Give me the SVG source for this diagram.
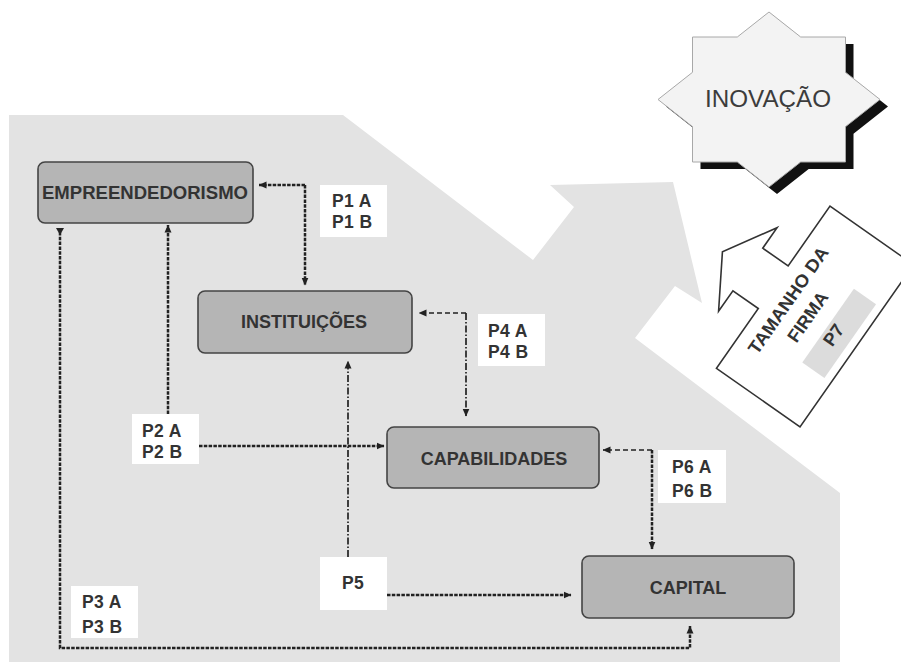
<svg xmlns="http://www.w3.org/2000/svg" width="901" height="663" viewBox="0 0 901 663">
  <style>
    .box { fill: #b5b5b5; stroke: #444; stroke-width: 1.6; }
    .boxtxt { font-family: "Liberation Sans", Arial, sans-serif; font-weight: bold; font-size: 18px; fill: #333; text-anchor: middle; }
    .lbl { fill: #fff; }
    .lbltxt { font-family: "Liberation Sans", Arial, sans-serif; font-weight: bold; font-size: 17.5px; fill: #333; letter-spacing: 0.4px; }
    .dense { fill: none; stroke: #222; stroke-width: 2.5; stroke-dasharray: 3.5 1.3; }
    .dash { fill: none; stroke: #222; stroke-width: 1.7; stroke-dasharray: 5 3; }
    .dashdot { fill: none; stroke: #222; stroke-width: 1.7; stroke-dasharray: 7 2 1.5 2; }
  </style>
  <defs>
    <marker id="arrow" viewBox="0 0 8 8" refX="7.5" refY="4" markerWidth="8" markerHeight="8" markerUnits="userSpaceOnUse" orient="auto">
      <path d="M0,0.5 L8,4 L0,7.5 Z" fill="#222"/>
    </marker>
  </defs>

  <rect width="901" height="663" fill="#fff"/>

  <!-- light gray field behind the model -->
  <polygon id="field" fill="#e3e3e3"
    points="9,115 343,115 533,260 574,207 550,185 673,182 702,303 675,286 635,338 840,493 840,662 9,662"/>

  <!-- eight-pointed star with drop shadow -->
  <g id="inovacao">
    <polygon transform="translate(8,7)" fill="#111"
      points="769,12 800.7,37 845.5,37 845.5,72.3 880,99.5 845.5,126.7 845.5,162 800.7,162 769,187 737.3,162 692.5,162 692.5,126.7 658,99.5 692.5,72.3 692.5,37 737.3,37"/>
    <polygon fill="#f3f3f3" stroke="#a8a8a8" stroke-width="1"
      points="769,12 800.7,37 845.5,37 845.5,72.3 880,99.5 845.5,126.7 845.5,162 800.7,162 769,187 737.3,162 692.5,162 692.5,126.7 658,99.5 692.5,72.3 692.5,37 737.3,37"/>
    <text x="768" y="107" font-family="'Liberation Sans', Arial, sans-serif" font-size="23" fill="#3c3c3c" text-anchor="middle" textLength="126" lengthAdjust="spacingAndGlyphs">INOVAÇÃO</text>
  </g>

  <!-- arrow callout: firm size -->
  <g id="tamanho-firma">
    <polygon transform="translate(815,316.5) rotate(35)" fill="#fff" stroke="#333" stroke-width="1.6" stroke-linejoin="miter"
      points="-51,-99 51,-99 51,99 -51,99 -51,26 -82,26 -82,51 -113,0 -82,-51 -82,-26 -51,-26"/>
    <g transform="translate(815,316.5) rotate(-55)">
      <rect x="-45" y="16" width="90" height="27" fill="#dcdcdc"/>
      <text class="boxtxt" x="-2" y="-25" textLength="126" lengthAdjust="spacingAndGlyphs">TAMANHO DA</text>
      <text class="boxtxt" x="-4.5" y="0.5">FIRMA</text>
      <text class="boxtxt" x="-4.5" y="32">P7</text>
    </g>
  </g>

  <!-- constructs -->
  <g id="empreendedorismo">
    <rect class="box" x="38" y="162" width="215" height="61" rx="7"/>
    <text class="boxtxt" x="145" y="198.5" textLength="206" lengthAdjust="spacingAndGlyphs">EMPREENDEDORISMO</text>
  </g>
  <g id="instituicoes">
    <rect class="box" x="198" y="291" width="214" height="62" rx="7"/>
    <text class="boxtxt" x="304" y="328">INSTITUIÇÕES</text>
  </g>
  <g id="capabilidades">
    <rect class="box" x="387" y="427" width="212" height="61" rx="7"/>
    <text class="boxtxt" x="494" y="465">CAPABILIDADES</text>
  </g>
  <g id="capital">
    <rect class="box" x="582" y="556" width="212" height="62" rx="7"/>
    <text class="boxtxt" x="688" y="594">CAPITAL</text>
  </g>

  <!-- relation connectors -->
  <g id="connectors">
    <!-- P1 -->
    <path class="dense" d="M305,185 L259,185" marker-end="url(#arrow)"/>
    <path class="dense" d="M305,185 L305,285" marker-end="url(#arrow)"/>
    <!-- P4 -->
    <path class="dash" d="M466,313 L419,313" marker-end="url(#arrow)"/>
    <path class="dashdot" d="M466,313 L466,416" marker-end="url(#arrow)"/>
    <!-- P2 -->
    <path class="dense" d="M168,414 L168,225" marker-end="url(#arrow)"/>
    <path class="dense" d="M199,446 L384,446" marker-end="url(#arrow)"/>
    <!-- P3 -->
    <path class="dense" d="M60,232 L60,648 L690,648 L690,626" marker-end="url(#arrow)"/>
    <polygon points="56,228 64,228 60,235" fill="#222"/>
    <!-- P5 -->
    <path class="dashdot" d="M348,557 L348,361" marker-end="url(#arrow)"/>
    <path class="dense" d="M387,595 L571,595" marker-end="url(#arrow)"/>
    <!-- P6 -->
    <path class="dash" d="M652,450 L603,450" marker-end="url(#arrow)"/>
    <path class="dense" d="M652,450 L652,549" marker-end="url(#arrow)"/>
  </g>

  <!-- proposition labels -->
  <g id="p1">
    <rect class="lbl" x="320" y="185" width="67" height="52"/>
    <text class="lbltxt" x="332" y="207">P1 A</text>
    <text class="lbltxt" x="332" y="228">P1 B</text>
  </g>
  <g id="p4">
    <rect class="lbl" x="478" y="314" width="67" height="52"/>
    <text class="lbltxt" x="488" y="337">P4 A</text>
    <text class="lbltxt" x="488" y="358">P4 B</text>
  </g>
  <g id="p2">
    <rect class="lbl" x="132" y="414" width="67" height="50"/>
    <text class="lbltxt" x="142" y="437">P2 A</text>
    <text class="lbltxt" x="142" y="458">P2 B</text>
  </g>
  <g id="p3">
    <rect class="lbl" x="71" y="586" width="67" height="52"/>
    <text class="lbltxt" x="82" y="608">P3 A</text>
    <text class="lbltxt" x="82" y="633">P3 B</text>
  </g>
  <g id="p5">
    <rect class="lbl" x="320" y="557" width="67" height="53"/>
    <text class="lbltxt" x="342" y="589">P5</text>
  </g>
  <g id="p6">
    <rect class="lbl" x="658" y="450" width="68" height="53"/>
    <text class="lbltxt" x="672" y="473">P6 A</text>
    <text class="lbltxt" x="672" y="497">P6 B</text>
  </g>
</svg>
